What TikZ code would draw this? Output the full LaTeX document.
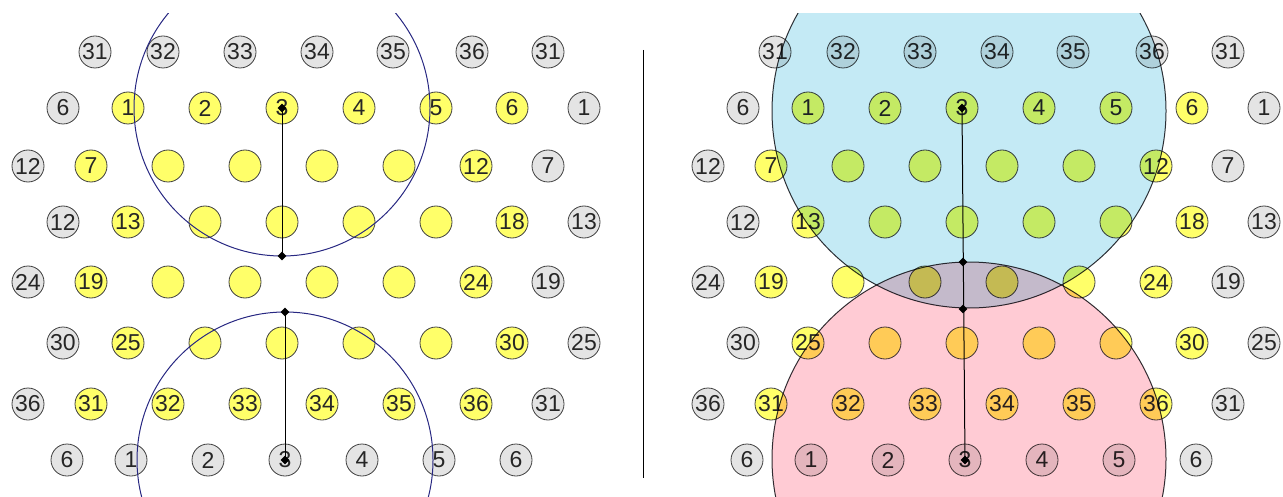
\documentclass[tikz,border=0pt]{standalone}
\usepackage{fontspec}
\setmainfont{Liberation Sans}
\usetikzlibrary{shapes.geometric,calc}
\definecolor{ghostgrey}{RGB}{228,228,228}
\definecolor{siteyellow}{RGB}{255,255,105}
\definecolor{navy}{RGB}{40,40,130}
\definecolor{skyfill}{RGB}{196,234,245}
\definecolor{rosefill}{RGB}{255,203,212}
\definecolor{rim}{RGB}{50,50,55}

\begin{document}
\begin{tikzpicture}[x=0.5pt,y=-0.5pt,
  cellbase/.style={circle,draw=black!75,line width=0.4pt,minimum size=16pt,inner sep=0pt,
    font=\fontsize{11.5}{12}\selectfont,text=black!85},
  ghost/.style={cellbase,fill=ghostgrey},
  site/.style={cellbase,fill=siteyellow},
  knot/.style={diamond,fill=black,inner sep=0pt,minimum size=4.5pt}]
\useasboundingbox (0,0) rectangle (1283,497);
% lattice with its periodic images, once per panel
\foreach \ox/\p in {0/L,680/R}{
  \foreach \r/\y/\row in {
    0/52/{95/31/ghost,163/32/ghost,240/33/ghost,317/34/ghost,393/35/ghost,472/36/ghost,548/31/ghost},
    1/108/{63/6/ghost,128/1/site,205/2/site,282/3/site,359/4/site,436/5/site,512/6/site,584/1/ghost},
    2/166/{28/12/ghost,91/7/site,168//site,245//site,322//site,399//site,476/12/site,548/7/ghost},
    3/222/{63/12/ghost,128/13/site,205//site,282//site,359//site,436//site,512/18/site,584/13/ghost},
    4/282/{28/24/ghost,91/19/site,168//site,245//site,322//site,399//site,476/24/site,548/19/ghost},
    5/343/{63/30/ghost,128/25/site,205//site,282//site,359//site,436//site,512/30/site,584/25/ghost},
    6/404/{28/36/ghost,91/31/site,168/32/site,245/33/site,322/34/site,399/35/site,476/36/site,548/31/ghost},
    7/460/{67/6/ghost,131/1/ghost,208/2/ghost,285/3/ghost,362/4/ghost,439/5/ghost,516/6/ghost}}{
    \foreach \x/\t/\s [count=\c] in \row
      \node[\s] (\p\r\c) at (\ox+\x,\y) {\t};
  }
}

% left panel: two cut-off circles
\coordinate (Lend1) at ($(L14.center)+(0,148)$);
\coordinate (Lend2) at ($(L74.center)+(0,-148)$);
\begin{scope}
  \clip (0,14) rectangle (640,497);
  \draw[navy,line width=0.5pt] (L14.center) circle[radius=148];
  \draw[navy,line width=0.5pt] (L74.center) circle[radius=148];
\end{scope}
\draw[line width=0.5pt] (L14.center) -- (Lend1);
\draw[line width=0.5pt] (L74.center) -- (Lend2);
\node[knot] (Lk1) at (L14.center) {};
\node[knot] (Lk2) at (Lend1) {};
\node[knot] (Lk3) at (Lend2) {};
\node[knot] (Lk4) at (L74.center) {};

% divider
\draw[line width=0.5pt] (643,50) -- (643,478);

% right panel: overlapping discs
\coordinate (Rsky) at (969,111);
\coordinate (Rrose) at (969,459);
\coordinate (Rcut1) at (963,262);
\coordinate (Rcut2) at (963,309);
\draw[line width=0.5pt] (R14.center) -- (R74.center);
\node[knot] (Rk1) at (R14.center) {};
\node[knot] (Rk2) at (Rcut1) {};
\node[knot] (Rk3) at (Rcut2) {};
\node[knot] (Rk4) at (R74.center) {};
\begin{scope}[blend mode=multiply]
  \clip (650,14) rectangle (1283,497);
  \filldraw[fill=skyfill,draw=rim,line width=0.5pt] (Rsky) circle[radius=197];
  \filldraw[fill=rosefill,draw=rim,line width=0.5pt] (Rrose) circle[radius=197];
\end{scope}
\end{tikzpicture}
\end{document}
